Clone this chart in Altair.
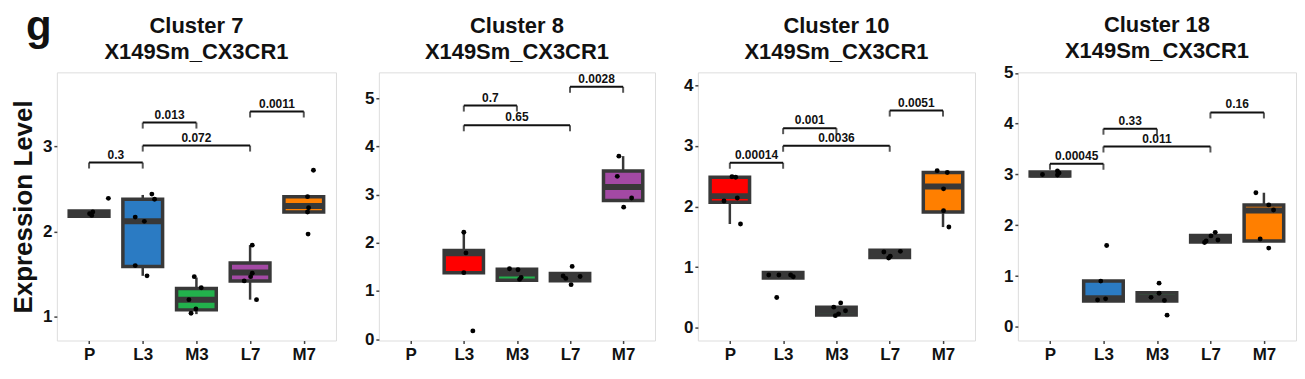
import altair as alt
import pandas as pd

FONT = "Liberation Sans"
cats = ["P", "L3", "M3", "L7", "M7"]
gene = "X149Sm_CX3CR1"
panel_letter = "g"

RED, BLUE, GREEN, PURPLE, ORANGE = "#FF0000", "#2B7BC3", "#22B14C", "#A349A4", "#FF7F00"

# ---------------- Cluster 7 ----------------
c7_box_cat = ["P", "L3", "M3", "L7", "M7"]
c7_lo = [2.18, 1.48, 1.03, 1.20, 2.23]
c7_q1 = [2.18, 1.59, 1.08, 1.42, 2.23]
c7_med = [2.21, 2.12, 1.20, 1.52, 2.30]
c7_q3 = [2.24, 2.38, 1.33, 1.63, 2.41]
c7_hi = [2.24, 2.43, 1.46, 1.84, 2.41]
c7_fill = [RED, BLUE, GREEN, PURPLE, ORANGE]
c7_pt_cat = ["P"] * 4 + ["L3"] * 6 + ["M3"] * 5 + ["L7"] * 5 + ["M7"] * 5
c7_pt_dx = [0.01, 0.05, 0.07, 0.36,
            -0.14, 0.03, 0.17, 0.22, -0.14, 0.08,
            -0.04, 0.09, -0.14, -0.01, -0.10,
            0.04, 0.04, 0.01, -0.11, 0.12,
            0.07, 0.09, 0.07, 0.18, 0.08]
c7_pt_y = [2.21, 2.19, 2.23, 2.39,
           2.17, 2.12, 2.44, 2.38, 1.60, 1.48,
           1.47, 1.34, 1.20, 1.09, 1.04,
           1.84, 1.51, 1.47, 1.42, 1.20,
           2.41, 2.28, 2.23, 2.72, 1.97]
c7_br_from = ["P", "L3", "L3", "L7"]
c7_br_to = ["L3", "M3", "L7", "M7"]
c7_br_y = [2.81, 3.28, 3.01, 3.41]
c7_br_lab = ["0.3", "0.013", "0.072", "0.0011"]

# ---------------- Cluster 8 ----------------
c8_box_cat = ["L3", "M3", "L7", "M7"]
c8_lo = [1.38, 1.22, 1.21, 2.88]
c8_q1 = [1.38, 1.22, 1.21, 2.88]
c8_med = [1.78, 1.36, 1.28, 3.16]
c8_q3 = [1.84, 1.45, 1.36, 3.49]
c8_hi = [2.22, 1.47, 1.36, 3.80]
c8_fill = [RED, GREEN, BLUE, PURPLE]
c8_pt_cat = ["L3"] * 4 + ["M3"] * 4 + ["L7"] * 5 + ["M7"] * 4
c8_pt_dx = [0.0, 0.04, 0.0, 0.17,
            -0.14, 0.02, 0.05, 0.08,
            0.04, -0.13, -0.08, 0.19, 0.02,
            -0.08, -0.11, 0.16, 0.01]
c8_pt_y = [2.22, 1.79, 1.38, 0.17,
           1.46, 1.44, 1.24, 1.28,
           1.51, 1.31, 1.26, 1.30, 1.13,
           3.80, 3.38, 2.93, 2.74]
c8_br_from = ["L3", "L3", "L7"]
c8_br_to = ["M3", "L7", "M7"]
c8_br_y = [4.85, 4.44, 5.24]
c8_br_lab = ["0.7", "0.65", "0.0028"]

# ---------------- Cluster 10 ----------------
c10_box_cat = ["P", "L3", "M3", "L7", "M7"]
c10_lo = [1.71, 0.82, 0.21, 1.16, 1.66]
c10_q1 = [2.07, 0.82, 0.21, 1.16, 1.91]
c10_med = [2.17, 0.87, 0.28, 1.22, 2.33]
c10_q3 = [2.48, 0.91, 0.34, 1.28, 2.56]
c10_hi = [2.48, 0.91, 0.34, 1.28, 2.58]
c10_fill = [RED, BLUE, GREEN, PURPLE, ORANGE]
c10_pt_cat = ["P"] * 5 + ["L3"] * 5 + ["M3"] * 5 + ["L7"] * 4 + ["M7"] * 5
c10_pt_dx = [0.04, 0.11, -0.11, 0.14, 0.20,
             -0.27, -0.08, 0.14, 0.19, -0.12,
             0.08, -0.05, 0.17, 0.04, -0.02,
             -0.11, 0.20, 0.01, -0.02,
             -0.11, 0.08, 0.01, 0.01, 0.11]
c10_pt_y = [2.49, 2.48, 2.09, 2.14, 1.71,
            0.87, 0.87, 0.87, 0.84, 0.50,
            0.41, 0.34, 0.28, 0.23, 0.20,
            1.25, 1.26, 1.18, 1.15,
            2.59, 2.56, 2.29, 1.93, 1.66]
c10_br_from = ["P", "L3", "L3", "L7"]
c10_br_to = ["L3", "M3", "L7", "M7"]
c10_br_y = [2.72, 3.29, 3.00, 3.58]
c10_br_lab = ["0.00014", "0.001", "0.0036", "0.0051"]

# ---------------- Cluster 18 ----------------
c18_box_cat = ["P", "L3", "M3", "L7", "M7"]
c18_lo = [2.97, 0.51, 0.51, 1.67, 1.69]
c18_q1 = [2.97, 0.51, 0.51, 1.67, 1.69]
c18_med = [3.00, 0.56, 0.58, 1.75, 2.29]
c18_q3 = [3.05, 0.90, 0.67, 1.80, 2.40]
c18_hi = [3.05, 0.90, 0.67, 1.80, 2.64]
c18_fill = [RED, BLUE, GREEN, PURPLE, ORANGE]
c18_pt_cat = ["P"] * 4 + ["L3"] * 4 + ["M3"] * 5 + ["L7"] * 5 + ["M7"] * 5
c18_pt_dx = [-0.14, 0.14, 0.17, 0.14,
             0.06, -0.05, -0.11, 0.04,
             0.04, 0.04, -0.11, 0.14, 0.19,
             -0.08, 0.01, 0.09, 0.14, -0.11,
             -0.15, 0.09, 0.18, -0.07, 0.09]
c18_pt_y = [3.00, 3.07, 3.03, 2.99,
            1.60, 0.90, 0.53, 0.55,
            0.86, 0.66, 0.58, 0.52, 0.23,
            1.69, 1.79, 1.86, 1.71, 1.66,
            2.64, 2.40, 2.30, 1.73, 1.55]
c18_br_from = ["P", "L3", "L3", "L7"]
c18_br_to = ["L3", "M3", "L7", "M7"]
c18_br_y = [3.21, 3.90, 3.55, 4.22]
c18_br_lab = ["0.00045", "0.33", "0.011", "0.16"]

titles = ["Cluster 7", "Cluster 8", "Cluster 10", "Cluster 18"]
y_domains = [[0.72, 3.87], [-0.03, 5.54], [-0.21, 4.21], [-0.27, 5.01]]
y_ticks = [[1, 2, 3], [0, 1, 2, 3, 4, 5], [0, 1, 2, 3, 4], [0, 1, 2, 3, 4, 5]]
widths = [280, 277, 278, 279]
title_offsets = [8, 8, 8, 1]

BOXLINE = "#383838"
pos = {c: i + 1 for i, c in enumerate(cats)}
label_expr = "['P','L3','M3','L7','M7'][datum.value - 1]"


def panel(i, box_cat, lo, q1, med, q3, hi, fill, pt_cat, pt_dx, pt_y,
          br_from, br_to, br_y, br_lab):
    first = i == 0
    boxes = pd.DataFrame({"cat": box_cat, "lo": lo, "q1": q1, "med": med,
                          "q3": q3, "hi": hi, "fill": fill})
    boxes["pos"] = boxes["cat"].map(pos)
    pts = pd.DataFrame({"cat": pt_cat, "dx": pt_dx, "y": pt_y})
    pts["pos"] = pts["cat"].map(pos)
    brs = pd.DataFrame({"a": [pos[c] for c in br_from],
                        "b": [pos[c] for c in br_to],
                        "y": br_y, "lab": br_lab})

    xscale = alt.Scale(domain=[0.4, 5.6], nice=False, zero=False)
    yscale = alt.Scale(domain=y_domains[i], nice=False, zero=False)
    xaxis = alt.Axis(values=[1, 2, 3, 4, 5], labelExpr=label_expr, title=None,
                     grid=False, domain=False, tickSize=3, tickWidth=1.5,
                     tickColor="#444", labelFontSize=17, labelFont=FONT,
                     labelFontWeight="bold", labelColor="#111", labelPadding=3)
    yaxis = alt.Axis(values=y_ticks[i], format="d",
                     title="Expression Level" if first else None,
                     titleFontSize=26, titleFont=FONT, titleFontWeight="bold",
                     titleColor="#111", titlePadding=6,
                     grid=False, domain=False, tickSize=3, tickWidth=1.5,
                     tickColor="#444", labelFontSize=17, labelFont=FONT,
                     labelFontWeight="bold", labelColor="#111", labelPadding=2)

    def X(f):
        return alt.X(f, type="quantitative", scale=xscale, axis=xaxis)

    def Y(f):
        return alt.Y(f, type="quantitative", scale=yscale, axis=yaxis)

    bbase = alt.Chart(boxes).transform_calculate(
        x1="datum.pos - 0.37", x2="datum.pos + 0.37")
    wlow = bbase.mark_rule(color=BOXLINE, strokeWidth=2.5).encode(
        x=X("pos"), y=Y("lo"), y2="q1")
    whigh = bbase.mark_rule(color=BOXLINE, strokeWidth=2.5).encode(
        x=X("pos"), y=Y("q3"), y2="hi")
    box = bbase.mark_rect(stroke=BOXLINE, strokeWidth=3.5).encode(
        x=X("x1"), x2="x2", y=Y("q1"), y2="q3",
        fill=alt.Fill("fill:N", scale=None))
    medl = bbase.mark_rule(color=BOXLINE, strokeWidth=6).encode(
        x=X("x1"), x2="x2", y=Y("med"))

    dots = alt.Chart(pts).transform_calculate(px="datum.pos + datum.dx").mark_circle(
        size=24, color="#000", opacity=1).encode(x=X("px"), y=Y("y"))

    bb = alt.Chart(brs).transform_calculate(m="(datum.a + datum.b) / 2")
    bline = bb.mark_rule(color="#111", strokeWidth=2).encode(
        x=X("a"), x2="b", y=Y("y"))
    tipa = bb.mark_tick(orient="vertical", size=6, thickness=2, color="#111",
                        yOffset=3).encode(x=X("a"), y=Y("y"))
    tipb = bb.mark_tick(orient="vertical", size=6, thickness=2, color="#111",
                        yOffset=3).encode(x=X("b"), y=Y("y"))
    blab = bb.mark_text(fontSize=12, font=FONT, fontWeight="bold", color="#111",
                        baseline="bottom", dy=-1).encode(
        x=X("m"), y=Y("y"), text="lab:N")

    layers = [wlow, whigh, box, medl, dots, bline, tipa, tipb, blab]

    return alt.layer(*layers).properties(
        width=widths[i], height=269,
        title=alt.TitleParams(text=[titles[i], gene], fontSize=22, font=FONT,
                              fontWeight="bold", color="#111", anchor="middle",
                              frame="group", offset=title_offsets[i],
                              lineHeight=26))


panels = [
    panel(0, c7_box_cat, c7_lo, c7_q1, c7_med, c7_q3, c7_hi, c7_fill,
          c7_pt_cat, c7_pt_dx, c7_pt_y, c7_br_from, c7_br_to, c7_br_y, c7_br_lab),
    panel(1, c8_box_cat, c8_lo, c8_q1, c8_med, c8_q3, c8_hi, c8_fill,
          c8_pt_cat, c8_pt_dx, c8_pt_y, c8_br_from, c8_br_to, c8_br_y, c8_br_lab),
    panel(2, c10_box_cat, c10_lo, c10_q1, c10_med, c10_q3, c10_hi, c10_fill,
          c10_pt_cat, c10_pt_dx, c10_pt_y, c10_br_from, c10_br_to, c10_br_y, c10_br_lab),
    panel(3, c18_box_cat, c18_lo, c18_q1, c18_med, c18_q3, c18_hi, c18_fill,
          c18_pt_cat, c18_pt_dx, c18_pt_y, c18_br_from, c18_br_to, c18_br_y, c18_br_lab),
]

chart = alt.hconcat(*panels, spacing=43, bounds="flush").properties(
    title=alt.TitleParams(text=panel_letter, fontSize=42, font=FONT,
                          fontWeight="bold", color="#111", anchor="start",
                          frame="bounds", offset=-36, dx=16),
    padding={"top": -2, "left": 2, "right": 0, "bottom": 0}
).configure_view(
    stroke="#8a8a8a", strokeWidth=1.5
).configure(background="white")

chart.save("out.html", embed_options={"renderer": "svg", "actions": False})
